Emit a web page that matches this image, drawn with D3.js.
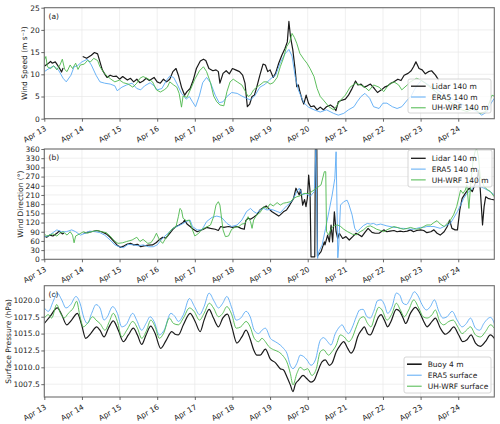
<!DOCTYPE html>
<html><head><meta charset="utf-8">
<script src="https://cdn.jsdelivr.net/npm/d3@7"></script>
<style>body{margin:0;background:#fff}svg text{font-family:"DejaVu Sans",sans-serif;fill:#222}</style>
</head><body><svg id="c" width="500" height="424"></svg>
<script>
// ---------------- data (hours since Apr 13 00:00, value) ----------------
const dayLabels = ["Apr 13","Apr 14","Apr 15","Apr 16","Apr 17","Apr 18","Apr 19","Apr 20","Apr 21","Apr 22","Apr 23","Apr 24"];
const wsTicks = [0,5,10,15,20,25];
const wdTicks = [0,30,60,90,120,150,180,210,240,270,300,330,360];
const pTicks = [1007.5,1010.0,1012.5,1015.0,1017.5,1020.0];

const lidarWS = [[0,11.8],[2,12.3],[4,12.9],[5,12.5],[7,12.8],[8,12.3],[10,11.2],[11,10.5],[12,11.4],[13,null],
[24.5,14.0],[27,13.6],[30,14.3],[32,14.9],[34,14.6],[35.5,12.8],[37,11.0],[39,9.8],[40,9.3],[42,9.8],[44,9.5],[46,9.6],[48,8.9],[50,9.5],[53,8.7],[55,9.1],[57,8.3],[59,8.9],[61,8.1],[63,8.5],[65,9.1],[67,8.6],[70,9.3],[72,8.3],[74,8.0],[76,8.9],[78,8.3],[80,8.9],[82,10.6],[84,11.3],[85.5,9.8],[87.5,7.1],[89.5,5.3],[91,6.1],[93,6.8],[95,8.7],[97,11.3],[99.5,13.0],[101.5,13.4],[103,13.1],[105,11.3],[107.5,10.8],[109.5,11.0],[111,10.6],[112,8.0],[114,10.2],[116,10.8],[118,10.1],[120,11.3],[122,11.0],[124.5,10.6],[126.5,9.8],[128,8.0],[129.5,2.7],[131,3.3],[132.5,5.0],[134,5.3],[135.5,7.1],[137.5,9.8],[139.5,12.3],[141,12.1],[142.5,10.6],[144,11.0],[146,9.3],[147.5,10.2],[149.5,12.5],[151.5,14.3],[153.5,15.8],[155,17.3],[156,21.9],[157,18.5],[158.5,15.5],[160,11.0],[161,7.2],[162,7.6],[163,6.1],[164.5,4.2],[165.5,3.3],[167,5.3],[168.5,3.5],[170,2.7],[172,2.9],[174,2.0],[176,2.6],[178,2.0],[180,2.7],[182.5,3.1],[184.5,2.6],[186,1.8],[187.5,3.8],[190,4.2],[192,4.4],[194,5.3],[196,6.6],[198.5,8.5],[200,7.6],[202,7.8],[204,7.1],[206,7.4],[208,7.8],[210.5,6.8],[212.5,5.9],[215,6.5],[217,7.1],[219,7.4],[221,8.0],[223,8.3],[225.5,8.9],[227.5,8.6],[229.5,9.8],[232,10.2],[234,10.8],[235.5,11.7],[237,12.8],[239,11.3],[241,11.0],[243,10.1],[245,10.6],[247,10.8],[249.5,9.8],[251.5,8.7]];

const era5WS = [[0,10.6],[3,11.3],[6,11.9],[9,11.0],[12,9.1],[14,8.3],[17,9.8],[19,11.7],[21,11.9],[24,12.8],[27.5,13.4],[30,12.1],[33,9.8],[35.5,8.3],[38.5,8.0],[42,7.8],[45,7.4],[46.5,6.3],[49.5,7.1],[52.5,7.6],[56,8.0],[59,6.8],[61.5,6.5],[64,7.4],[67.5,8.1],[70,7.4],[72,6.5],[75,6.8],[78,8.7],[80,9.6],[82.5,9.3],[85,7.6],[87.5,5.7],[90.5,4.4],[92.5,5.0],[94.5,3.8],[96.5,2.7],[99,5.3],[101,8.1],[103.5,9.3],[106,8.1],[109,5.3],[111.5,3.6],[114,3.8],[116.5,5.0],[119.5,5.9],[123,5.7],[126,5.1],[129,4.6],[131.5,4.2],[134.5,5.3],[137.5,7.1],[141,7.8],[144,8.9],[147.5,9.8],[150.5,12.6],[153.5,14.6],[156,15.6],[158,14.1],[160,9.5],[162,6.5],[165.5,3.6],[168.5,2.6],[172,2.0],[176,1.5],[180,2.0],[184.5,1.2],[187.5,0.8],[191,1.2],[194,2.0],[197.5,2.7],[199.5,3.8],[202,5.0],[204.5,5.7],[207.5,4.6],[210,2.7],[213.5,2.3],[216,3.5],[218.5,3.5],[222,2.7],[225,2.3],[228,2.7],[231.5,4.2],[234,5.1],[236,6.5],[238,7.6],[240.5,8.6],[243,8.1],[246,7.4],[250.5,6.5],[254.5,5.6],[259,4.8],[263,3.8],[267.5,3.1],[272,2.3],[276,1.6],[279,0.8],[282.5,1.6],[285,3.5],[287,4.6]];

const wrfWS = [[0,13.2],[1,14.0],[2,11.7],[4,11.3],[6,11.9],[8,11.0],[10,12.1],[11.5,13.4],[13,11.1],[14.5,10.6],[16.5,12.1],[18,11.3],[20,12.5],[21.5,11.1],[23,12.1],[25.5,12.3],[27.5,13.1],[29.5,12.8],[31.5,13.6],[34,13.1],[35.5,11.7],[38,10.4],[40,9.6],[42.5,8.9],[45,8.3],[48,8.7],[50.5,8.1],[53.5,7.8],[56.5,7.1],[59,8.0],[61,9.1],[63,9.5],[66.5,8.9],[69,8.3],[71.5,6.5],[74,6.0],[76.5,6.5],[78.5,7.1],[80,8.3],[82.5,7.6],[84.5,7.1],[86,5.7],[87.5,2.6],[88.5,5.1],[91,4.8],[93.5,6.8],[96,8.9],[99,10.8],[101.5,11.7],[103.5,10.6],[106,8.1],[108,5.1],[110,3.8],[112,3.1],[114.5,2.9],[116.5,6.1],[118.5,8.3],[120.5,8.9],[123,8.3],[126,7.6],[128,6.3],[130,5.0],[131.5,5.3],[133.5,6.5],[135.5,7.1],[137.5,7.6],[140,8.3],[142,8.3],[144,7.8],[146,8.1],[148.5,9.3],[150.5,11.7],[152.5,13.6],[154.5,16.2],[156.5,17.3],[158,19.2],[159.5,18.3],[161,17.0],[163,14.7],[165.5,13.4],[167.5,12.5],[169.5,11.3],[172,9.5],[174,6.8],[176,5.0],[178,4.2],[181.5,2.7],[184.5,2.0],[186.5,2.9],[189,4.2],[192,5.3],[195,7.1],[198.5,8.0],[201.5,7.6],[204.5,7.1],[207,6.3],[210,7.6],[213.5,7.1],[216.5,6.1],[219.5,7.6],[223,8.3],[226,7.6],[228,6.5],[231.5,7.6],[233.5,8.3],[235.5,8.7],[237.5,9.1],[240,8.7],[243,8.0],[246,7.1],[249.5,6.1],[252.5,5.3],[257,4.2],[261,3.3],[265.5,2.1],[269.5,1.6],[274,2.3],[278,1.2],[281.5,1.6],[283.5,3.3],[285.5,5.3],[287.5,5.0]];

const lidarWD = [[0,76],[1.5,72],[3.5,79],[5.5,76],[8,85],[9.5,92],[11.5,83],[12.5,85],[13,null],
[25,85],[27.5,88],[30,90],[33.5,94],[36.5,90],[39.5,83],[42,72],[44.5,58],[46.5,46],[48.5,39],[51,44],[53,50],[55,52],[57,47],[59.5,49],[61.5,41],[63.5,44],[66.5,46],[69,47],[71.5,55],[73.5,65],[75.5,72],[77.5,69],[80,85],[82,98],[84,107],[86,112],[88.5,120],[89.5,128],[91,115],[93,107],[95,98],[97.5,90],[99.5,94],[101.5,98],[103.5,104],[106,101],[109,98],[111,94],[112.5,107],[114.5,104],[117.5,107],[120,104],[123,107],[125.5,101],[127.5,98],[128.5,126],[130,134],[131.5,131],[133.5,137],[135.5,145],[137.5,161],[140,170],[141.5,174],[143,166],[145,156],[147.5,148],[149.5,141],[150.5,145],[152.5,155],[154.5,161],[156.5,177],[159,199],[160.5,232],[162.6,210],[163.5,228],[164.8,177],[166,195],[166.9,172],[167.8,200],[168.6,275],[169.5,220],[170.1,8],[172.5,8],[172.9,360],[173.8,360],[174.2,10],[176.5,25],[178.6,57],[179,47],[180.7,79],[181.8,57],[182.9,112],[183.9,57],[185,155],[186.1,90],[187.1,68],[188.2,85],[190.3,68],[192.4,74],[194.5,63],[196.7,74],[198.8,85],[200.9,79],[202.5,74],[204.5,88],[206.5,101],[209,88],[211,85],[213.5,85],[216.5,96],[218.5,90],[220.5,92],[223,94],[225,90],[227,92],[229,90],[231.5,92],[233.5,96],[235.5,90],[237.5,94],[240,96],[242,94],[244,87],[246.5,90],[248.5,96],[250.5,85],[252.5,79],[255,90],[257,107],[258.5,128],[260,101],[262,96],[263.5,96],[265,161],[266.5,199],[268.5,215],[271,232],[273,221],[274.5,243],[276,259],[277,291],[278,232],[279.5,112],[280.5,172],[281.5,204],[283,199],[285,196],[287,194]];

const era5WD = [[0,74],[2.5,76],[5.5,87],[8,96],[11,90],[14,90],[17.5,96],[20,90],[23,79],[26,85],[29,92],[32.5,90],[35.5,87],[38.5,79],[42,63],[45,47],[48,41],[50.5,38],[53.5,49],[57,47],[60,44],[63,47],[66.5,41],[69.5,41],[72,47],[74.5,63],[76.5,74],[79,85],[82,101],[84.5,107],[87.5,114],[90.5,123],[93,128],[94.5,107],[97.5,96],[100.5,96],[103.5,123],[107,137],[110,141],[113,137],[116.5,117],[119.5,107],[123,112],[126,128],[129,156],[131.5,166],[133.5,156],[135.5,150],[137.5,161],[140,166],[142,161],[144,163],[146,161],[148.5,156],[150.5,152],[152.5,163],[154.5,174],[157,185],[159,199],[161,221],[162.6,232],[164.5,210],[166.9,215],[169.5,205],[172.2,221],[173.2,358],[174.3,3],[175.1,25],[177.2,47],[179.4,101],[181.5,155],[183.6,210],[185.3,264],[186.1,351],[187.2,5],[187.8,47],[188.9,177],[191,188],[193.1,193],[194.2,180],[196.3,145],[198,101],[199.5,90],[201.5,100],[203.5,110],[206,117],[208,115],[210,117],[212,112],[214.5,115],[216.5,112],[218.5,109],[220.5,107],[223,104],[225,104],[227,101],[229,101],[231.5,100],[233.5,98],[235.5,98],[237.5,101],[240,104],[242,104],[244,107],[246.5,107],[248.5,107],[250.5,104],[252.5,101],[255,107],[257,112],[259,117],[261,134],[263.5,156],[265.5,177],[267.5,199],[269.5,215],[272,226],[274,237],[276,243],[278,237],[280.5,232],[282.5,226],[284.5,221],[287,210]];

const wrfWD = [[0,83],[1.5,76],[3.5,79],[5.5,83],[8,76],[10,85],[12,90],[14.5,79],[16.5,90],[18,79],[19,54],[20,76],[22.5,83],[25,90],[27.5,85],[30,90],[33.5,94],[36.5,90],[39.5,87],[42,76],[44.5,61],[47,52],[50,54],[52.5,58],[56,63],[59,72],[61,58],[63,65],[66,52],[68,54],[70,69],[71.5,85],[73.5,63],[75.5,52],[77.5,69],[80,90],[82,101],[84,107],[85.5,139],[86.5,166],[87.5,161],[88.5,134],[90.5,126],[92.5,128],[94.5,96],[96,76],[98.5,85],[100.5,98],[103,104],[106,112],[108,139],[109.5,177],[111,188],[112,177],[114,96],[115.5,74],[117.5,76],[119.5,98],[121.5,104],[124,107],[126,115],[128,117],[130,139],[131.5,123],[132.5,101],[133.5,128],[135.5,145],[137.5,152],[140,172],[142,166],[144,181],[146,174],[148.5,185],[150.5,177],[152.5,183],[154.5,185],[157,188],[159,199],[161,204],[163,207],[165.5,215],[168.8,215],[172,226],[176.5,243],[178.6,286],[179.5,286],[180,90],[181.5,80],[183,101],[185,110],[187,112],[189,107],[191,98],[193.5,90],[196.5,82],[199,80],[201.5,90],[203.5,96],[206,107],[208,109],[210,104],[212,98],[214.5,94],[216.5,90],[218.5,96],[220.5,101],[223,107],[225,104],[227,101],[229,98],[231.5,101],[233.5,104],[235.5,101],[237.5,98],[240,101],[242,107],[244,112],[246.5,112],[248.5,120],[250.5,126],[252.5,115],[255,107],[257,117],[259,128],[261,145],[263,172],[264.5,204],[265.5,226],[267,215],[268.5,226],[269.5,243],[270.8,166],[272,248],[273.5,324],[275,357],[276,358],[277,330],[278,270],[280.5,237],[282.5,228],[284.5,221],[287,204]];

const buoyP = [[0,1016.5],[3.6,1017.5],[8.3,1018.8],[11.1,1017.8],[14.3,1016.3],[17.4,1017.0],[21.1,1018.0],[23.8,1016.3],[26.4,1014.3],[29.6,1015.0],[33.4,1016.0],[35.5,1015.5],[38.1,1014.5],[40.9,1015.8],[44,1016.9],[47.2,1015.5],[50.4,1013.8],[53.6,1014.8],[56.8,1015.8],[59.4,1014.8],[62.1,1013.4],[64.9,1014.8],[67.9,1016.1],[70.7,1015.0],[74.3,1012.8],[77.7,1014.0],[81.3,1015.3],[83.4,1014.9],[85.5,1014.8],[88.7,1016.3],[93,1018.0],[96.2,1016.8],[99.4,1015.3],[101.9,1017.0],[105.1,1018.6],[107.9,1017.3],[111.1,1016.0],[113.8,1017.3],[116.8,1017.9],[119.6,1016.0],[122.8,1013.6],[126,1014.5],[128.7,1015.5],[131.3,1014.2],[133.5,1012.6],[135.6,1011.8],[137.7,1011.8],[141,1012.7],[144.2,1011.2],[147.3,1010.7],[150.5,1009.8],[152.6,1009.6],[154.7,1008.6],[156.9,1007.4],[158.6,1006.4],[160.1,1007.5],[162.2,1008.1],[165,1008.8],[167.5,1008.3],[170.1,1007.8],[172.2,1008.1],[174.3,1009.3],[177.1,1010.8],[179.2,1011.1],[181.8,1010.3],[183.5,1010.6],[186.2,1012.3],[188.8,1013.3],[190.9,1013.8],[193.5,1012.8],[195.6,1012.1],[197.7,1012.8],[199.8,1014.5],[202.6,1015.6],[204.1,1016.0],[206.2,1015.0],[207.9,1014.8],[210.5,1016.0],[213.3,1017.5],[214.8,1017.8],[216.9,1017.0],[219,1016.0],[221.1,1016.8],[224.5,1018.6],[226.7,1018.3],[228.8,1017.3],[230.5,1016.5],[233.5,1018.0],[236.7,1018.9],[239.4,1018.1],[242,1016.8],[244.1,1016.0],[247.3,1016.8],[249.4,1017.3],[252.6,1015.8],[255.8,1014.9],[258.4,1015.3],[261.1,1016.0],[264.3,1014.8],[266.9,1013.8],[269.6,1014.1],[272.2,1014.8],[275,1013.6],[278.1,1013.1],[281.3,1013.8],[284.5,1014.8],[287.8,1014.0]];

const era5P = [[0,1018.8],[2.6,1018.3],[5.7,1019.8],[8.3,1021.0],[11.1,1020.0],[13.8,1018.8],[16.8,1019.3],[20.2,1020.5],[22.8,1019.5],[25.3,1017.3],[27.5,1016.5],[30.2,1018.0],[33,1019.3],[35.5,1018.8],[38.1,1017.0],[40.2,1017.5],[43.6,1019.0],[46.6,1018.0],[49.4,1016.0],[52.1,1016.3],[56.4,1018.0],[58.9,1017.0],[62.1,1015.5],[64.9,1016.5],[67.5,1017.5],[70,1016.8],[73.4,1014.8],[76.4,1015.5],[80.7,1018.0],[83.4,1017.5],[85.5,1016.8],[88.7,1017.8],[92.6,1020.2],[95.8,1019.0],[99,1017.8],[101.9,1019.0],[105.1,1021.0],[108.3,1019.8],[111.1,1018.8],[113.8,1019.5],[116.4,1020.5],[119.6,1018.8],[122.4,1017.0],[125.3,1017.3],[128.7,1018.3],[131.3,1017.5],[133.9,1015.5],[136.7,1015.0],[138.8,1015.5],[141,1015.8],[144.2,1014.3],[147.3,1013.8],[150.5,1013.3],[152.6,1012.8],[154.7,1012.1],[156.9,1010.3],[158.6,1009.8],[161.1,1010.6],[163.2,1011.8],[165.4,1011.6],[167.5,1011.1],[170.1,1010.3],[172.9,1011.1],[176,1014.0],[178.1,1014.4],[180.7,1013.8],[182.8,1013.3],[185.6,1015.0],[188.3,1016.0],[189.9,1016.3],[192,1015.5],[194.1,1015.0],[196.2,1015.8],[199,1017.5],[201.1,1018.5],[203.3,1018.6],[205.8,1017.5],[207.9,1017.3],[210.1,1018.3],[212.6,1019.9],[214.8,1020.0],[216.9,1019.3],[219,1018.0],[221.8,1019.0],[224.5,1021.0],[226.7,1020.7],[228.8,1019.5],[230.9,1019.3],[233.5,1020.2],[236,1021.2],[238.1,1020.7],[240.9,1019.3],[243.7,1018.5],[246.2,1019.0],[248.8,1020.0],[251.6,1018.3],[254.3,1017.3],[256.9,1017.5],[260.1,1018.3],[263.3,1017.0],[266.5,1016.0],[269.2,1016.5],[271.8,1017.3],[275,1015.8],[277.7,1015.5],[280.3,1016.5],[284.6,1017.4],[287.8,1016.0]];

const wrfP = [[0,1017.3],[2.6,1017.8],[4.7,1017.3],[7.9,1019.3],[10.4,1018.0],[12.6,1017.3],[15.3,1018.0],[18.5,1018.8],[20.6,1019.8],[22.8,1017.5],[24.9,1016.0],[27.5,1016.5],[30.9,1017.5],[33,1017.0],[35.5,1016.5],[38.7,1015.5],[41.5,1016.8],[44,1018.0],[46.6,1016.8],[49.4,1014.5],[52.6,1015.5],[56.4,1016.8],[59.4,1015.8],[62.1,1014.3],[65.3,1015.5],[67.9,1017.0],[70.7,1016.0],[73.4,1014.3],[76,1015.0],[79.8,1017.3],[82.4,1016.5],[85.5,1016.3],[88.7,1017.3],[92.6,1018.8],[95.5,1018.3],[99,1017.0],[101.9,1018.0],[105.3,1019.5],[107.9,1018.8],[111.1,1017.5],[113.8,1018.0],[116.4,1019.0],[119.6,1017.8],[122.4,1015.8],[125.3,1016.0],[128.7,1016.8],[131.3,1016.0],[133.9,1014.3],[136.7,1013.8],[138.8,1014.3],[141,1013.8],[143.1,1013.1],[146.3,1012.6],[149.4,1012.3],[152.6,1011.6],[154.7,1010.8],[156.9,1009.1],[158.6,1007.4],[161.1,1009.1],[163.2,1010.0],[165.8,1009.6],[167.9,1009.8],[170.7,1008.8],[173.5,1009.8],[176,1012.3],[178.1,1012.6],[181.3,1011.8],[183.4,1012.3],[186.2,1013.3],[188.8,1014.8],[191.3,1014.5],[194.1,1013.8],[196.2,1014.3],[199,1016.0],[201.6,1017.3],[203.7,1017.5],[206.2,1016.5],[208.3,1016.0],[211.1,1017.8],[213.3,1018.9],[215.4,1018.5],[218.6,1017.0],[221.8,1018.0],[224.5,1019.5],[227.1,1018.5],[229.6,1017.5],[232.4,1018.5],[235.6,1020.0],[238.8,1018.8],[241.6,1017.5],[244.1,1017.3],[247.3,1017.8],[249.4,1018.5],[252.2,1016.8],[254.7,1016.3],[258,1016.8],[260.7,1017.0],[263.7,1016.0],[266.5,1015.0],[269.2,1015.5],[271.8,1016.0],[275,1014.8],[278.2,1014.5],[281.4,1015.3],[284.6,1016.3],[287.8,1015.5]];

const wsNames = ["Lidar 140 m","ERA5 140 m","UH-WRF 140 m"];
const wdNames = ["Lidar 140 m","ERA5 140 m","UH-WRF 140 m"];
const pNames = ["Buoy 4 m","ERA5 surface","UH-WRF surface"];

// ---------------- drawing ----------------
const C_OBS = "#1a1a1a", C_ERA = "#5aaaf5", C_WRF = "#4cb84c";
const FS = 7.5;
const svg = d3.select("#c");
const L = 44.3, R = 494.3;
const x = d3.scaleLinear().domain([0, 287]).range([L, R]);
const dayTicks = d3.range(0, 288, 24);

const panels = [
  {id:"a", top:7.7, bottom:118.7, domain:[0,25], ticks:wsTicks, fmt:d=>d, label:"Wind Speed (m s\u207B\u00B9)", labelX:24,
   series:[lidarWS, era5WS, wrfWS], names:wsNames, curve:d3.curveLinear,
   leg:{x:408, y:79, w:83, h:34, dy:10.8, off:7.2}},
  {id:"b", top:149, bottom:259.3, domain:[0,360], ticks:wdTicks, fmt:d=>d, label:"Wind Direction (\u00B0)", labelX:20,
   series:[lidarWD, era5WD, wrfWD], names:wdNames, curve:d3.curveLinear,
   leg:{x:408, y:150, w:84, h:37, dy:10.8, off:8.3}},
  {id:"c", top:285.7, bottom:397, domain:[1005.6,1022.1], ticks:pTicks, fmt:d3.format(".1f"), label:"Surface Pressure (hPa)", labelX:8.5,
   series:[buoyP, era5P, wrfP], names:pNames, curve:d3.curveMonotoneX,
   leg:{x:404, y:357, w:87, h:36, dy:11, off:7.2}}
];
const colors = [C_OBS, C_ERA, C_WRF];
const widths = [1.2, 0.9, 0.9];

panels.forEach(p => {
  const y = d3.scaleLinear().domain(p.domain).range([p.bottom, p.top]);
  const g = svg.append("g");
  // grid
  g.append("g").selectAll("line").data(dayTicks).join("line")
    .attr("x1", d=>x(d)).attr("x2", d=>x(d)).attr("y1", p.top).attr("y2", p.bottom)
    .attr("stroke", "#e8e8e8").attr("stroke-width", 0.7);
  g.append("g").selectAll("line").data(p.ticks).join("line")
    .attr("x1", L).attr("x2", R).attr("y1", d=>y(d)).attr("y2", d=>y(d))
    .attr("stroke", "#e8e8e8").attr("stroke-width", 0.7);
  // clip
  svg.append("clipPath").attr("id", "clip"+p.id).append("rect")
    .attr("x", L).attr("y", p.top).attr("width", R-L).attr("height", p.bottom-p.top);
  const line = d3.line().defined(d=>d[1]!=null).curve(p.curve).x(d=>x(d[0])).y(d=>y(d[1]));
  const lg = g.append("g").attr("clip-path", `url(#clip${p.id})`);
  p.series.forEach((s,i) => {
    lg.append("path").datum(s).attr("d", line).attr("fill","none")
      .attr("stroke", colors[i]).attr("stroke-width", widths[i]).attr("stroke-linejoin","round");
  });
  // frame
  g.append("rect").attr("x", L).attr("y", p.top).attr("width", R-L).attr("height", p.bottom-p.top)
    .attr("fill","none").attr("stroke","#6e6e6e").attr("stroke-width",1.1);
  // y axis
  const ya = g.append("g").attr("transform", `translate(${L},0)`)
    .call(d3.axisLeft(y).tickValues(p.ticks).tickFormat(p.fmt).tickSize(3).tickPadding(1.5));
  ya.select(".domain").remove();
  ya.selectAll(".tick line").attr("stroke","#444").attr("stroke-width",0.8);
  ya.selectAll("text").attr("font-size", FS).attr("font-family","DejaVu Sans").attr("fill","#222");
  // x axis
  const xa = g.append("g").attr("transform", `translate(0,${p.bottom})`)
    .call(d3.axisBottom(x).tickValues(dayTicks).tickFormat((d,i)=>dayLabels[i]).tickSize(3));
  xa.select(".domain").remove();
  xa.selectAll(".tick line").attr("stroke","#444").attr("stroke-width",0.8);
  xa.selectAll("text").attr("font-size", FS).attr("font-family","DejaVu Sans").attr("fill","#222")
    .attr("text-anchor","end").attr("y", 0).attr("dy", 0)
    .attr("transform", "translate(2,11.5) rotate(-30)");
  // y label
  g.append("text").attr("transform", `translate(${p.labelX},${(p.top+p.bottom)/2}) rotate(-90)`)
    .attr("text-anchor","middle").attr("dy","0.35em").attr("font-size", FS).text(p.label);
  // panel tag
  g.append("text").attr("x", 48.5).attr("y", p.top+11).attr("font-size", FS).text("("+p.id+")");
  // legend
  const lgd = g.append("g").attr("transform", `translate(${p.leg.x},${p.leg.y})`);
  lgd.append("rect").attr("width", p.leg.w).attr("height", p.leg.h).attr("rx", 2)
    .attr("fill","#fff").attr("fill-opacity",0.8).attr("stroke","#cccccc").attr("stroke-width",0.8);
  p.names.forEach((n,i) => {
    const yy = p.leg.off + i*p.leg.dy;
    lgd.append("line").attr("x1", 3).attr("x2", 17.7).attr("y1", yy).attr("y2", yy)
      .attr("stroke", colors[i]).attr("stroke-width", i===0 && p.id==="c" ? 1.6 : widths[i]+0.1);
    lgd.append("text").attr("x", 23.7).attr("y", yy).attr("dy","0.35em")
      .attr("font-size", FS).text(n);
  });
});
</script></body></html>
